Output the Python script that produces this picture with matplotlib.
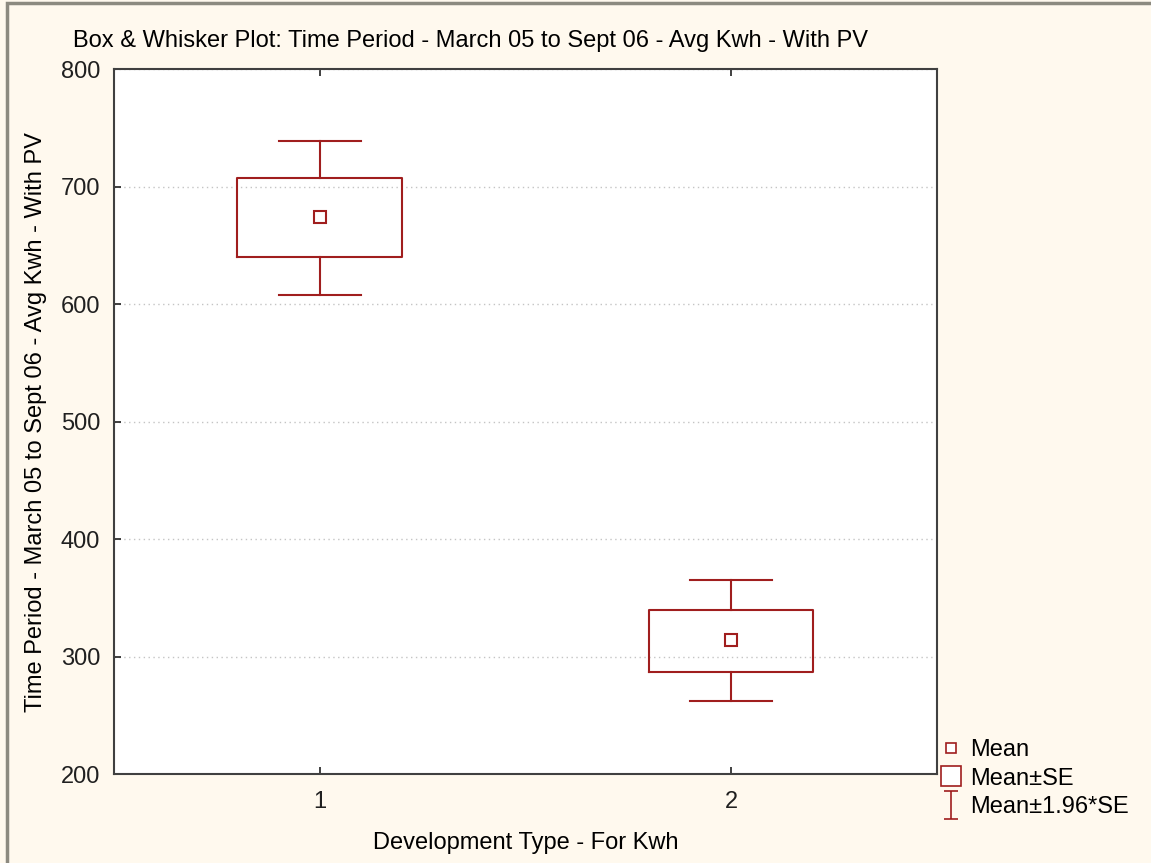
import matplotlib
matplotlib.use("Agg")
import matplotlib.pyplot as plt
from matplotlib.lines import Line2D
from matplotlib.path import Path
from matplotlib.patches import Rectangle

plt.rcParams["font.family"] = ["Liberation Sans", "DejaVu Sans"]

# values
categories = ["1", "2"]
means = [674, 314]
se_low = [640, 287]
se_high = [707, 340]
ci_low = [608, 262]
ci_high = [739, 365]
y_ticks = [200, 300, 400, 500, 600, 700, 800]

RED = "#A01E1E"
BG = "#FFF9EE"
FS = 17

fig = plt.figure(figsize=(11.51, 8.63), dpi=100, facecolor=BG)
ax = fig.add_axes([0.099, 0.103, 0.715, 0.817])
ax.set_facecolor("white")

stats = []
for i, cat in enumerate(categories):
    stats.append({
        "label": cat,
        "med": means[i],
        "mean": means[i],
        "q1": se_low[i],
        "q3": se_high[i],
        "whislo": ci_low[i],
        "whishi": ci_high[i],
        "fliers": [],
    })

ax.bxp(
    stats,
    positions=[1, 2],
    widths=0.4,
    capwidths=0.2,
    showmeans=True,
    boxprops=dict(color=RED, linewidth=1.5),
    whiskerprops=dict(color=RED, linewidth=1.5),
    capprops=dict(color=RED, linewidth=1.5),
    medianprops=dict(linewidth=0),
    meanprops=dict(marker="s", markersize=8, markerfacecolor="white",
                   markeredgecolor=RED, markeredgewidth=1.5),
    zorder=3,
)

ax.set_xlim(0.5, 2.5)
ax.set_ylim(200, 800)
ax.set_yticks(y_ticks)
ax.set_xticks([1, 2])
ax.set_xticklabels(categories)
ax.yaxis.grid(True, linestyle=(0, (1, 2.5)), color="#C4C4C4", linewidth=1)
ax.set_axisbelow(True)
ax.tick_params(axis="both", direction="in", length=5, width=1.2, labelsize=FS,
               colors="#202020")
ax.tick_params(axis="x", top=True, pad=12)
ax.tick_params(axis="y", pad=10)
for s in ax.spines.values():
    s.set_color("#404040")
    s.set_linewidth(1.5)

ax.set_xlabel("Development Type - For Kwh", fontsize=FS, labelpad=14)
ax.set_ylabel("Time Period - March 05 to Sept 06 - Avg Kwh - With PV",
              fontsize=FS, labelpad=10)

fig.text(0.063, 0.953, "Box & Whisker Plot: Time Period - March 05 to Sept 06 - Avg Kwh - With PV",
         fontsize=FS, ha="left", va="center")

# legend
whisker_path = Path(
    [(-0.5, 1), (0.5, 1), (0, 1), (0, -1), (-0.5, -1), (0.5, -1)],
    [Path.MOVETO, Path.LINETO, Path.MOVETO, Path.LINETO, Path.MOVETO, Path.LINETO],
)
handles = [
    Line2D([], [], ls="none", marker="s", markersize=7, markerfacecolor="white",
           markeredgecolor=RED, markeredgewidth=1.2),
    Line2D([], [], ls="none", marker="s", markersize=14, markerfacecolor="white",
           markeredgecolor=RED, markeredgewidth=1.2),
    Line2D([], [], ls="none", marker=whisker_path, markersize=20,
           markeredgecolor=RED, markeredgewidth=1.2),
]
fig.legend(handles, ["Mean", "Mean\u00b1SE", "Mean\u00b11.96*SE"],
           loc="lower left", bbox_to_anchor=(0.808, 0.041), frameon=False,
           fontsize=FS, handlelength=1.0, handletextpad=0.3, labelspacing=0.28,
           borderaxespad=0)

# window frame on left and top
fig.patches.append(Rectangle((0.0065, -0.1), 1.1, 1.096, transform=fig.transFigure,
                             fill=False, edgecolor="#8C8A80", linewidth=2.5))

fig.savefig("out.png", dpi=100, facecolor=BG)
